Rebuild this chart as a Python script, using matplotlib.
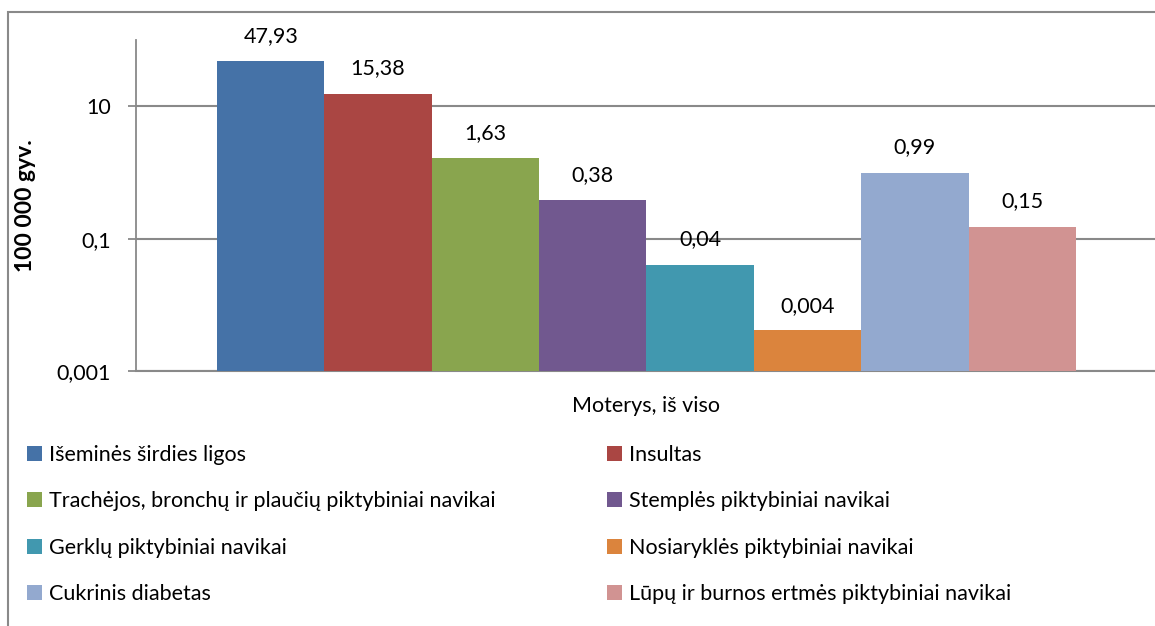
import matplotlib.pyplot as plt
from matplotlib.patches import Rectangle

plt.rcParams['font.family'] = ['Lato', 'DejaVu Sans']

# Mirtingumas, moterys, iš viso (100 000 gyv.)
ligos = [
    'Išeminės širdies ligos',
    'Insultas',
    'Trachėjos, bronchų ir plaučių piktybiniai navikai',
    'Stemplės piktybiniai navikai',
    'Gerklų piktybiniai navikai',
    'Nosiaryklės piktybiniai navikai',
    'Cukrinis diabetas',
    'Lūpų ir burnos ertmės piktybiniai navikai',
]
reiksmes = [47.93, 15.38, 1.63, 0.38, 0.04, 0.004, 0.99, 0.15]
spalvos = ['#4572A7', '#AA4643', '#89A54E', '#71588F',
           '#4198AF', '#DB843D', '#93A9CF', '#D19392']
grupe = 'Moterys, iš viso'
y_ticks = [0.001, 0.1, 10]
y_tick_labels = ['0,001', '0,1', '10']

W, H = 1155, 626
fs = 15.5
fig = plt.figure(figsize=(W / 100, H / 100), dpi=100)
ax = fig.add_axes([136 / W, 1 - 371 / H, 1021 / W, 331 / H])

grey = '#898989'
stulpeliai = []
for i, (v, c, l) in enumerate(zip(reiksmes, spalvos, ligos)):
    b = ax.bar(i, v, width=1.0, color=c, label=l, bottom=0.0001, zorder=3)
    stulpeliai.append(b)
    ax.annotate(f'{v:g}'.replace('.', ','), (i, v), xytext=(0, 14),
                textcoords='offset points', ha='center', va='baseline',
                fontsize=fs, color='black')

ax.set_yscale('log')
ax.set_ylim(0.001, 100)
ax.set_xlim(-0.5 - 0.755, 7.5 + 0.755)
ax.set_yticks(y_ticks)
ax.set_yticklabels(y_tick_labels)
ax.minorticks_off()
ax.set_xticks([3.5])
ax.set_xticklabels([grupe])
ax.tick_params(axis='x', length=0, pad=18, labelsize=fs)
ax.tick_params(axis='y', length=6, width=1.3, color=grey, pad=12, labelsize=fs)
ax.grid(axis='y', color=grey, linewidth=1.5, zorder=0)

for s in ['top', 'right']:
    ax.spines[s].set_visible(False)
ax.spines['left'].set_color(grey)
ax.spines['bottom'].set_color(grey)
ax.spines['left'].set_linewidth(1.3)
ax.spines['bottom'].set_linewidth(1.5)

fig.text(25 / W, 1 - 206 / H, '100 000 gyv.', rotation=90, ha='center',
         va='center', fontsize=16.5, fontweight='bold')

# legenda dviem stulpeliais, eilutėmis iš kairės į dešinę
leg_kw = dict(frameon=False, fontsize=fs, handlelength=0.7, handleheight=0.7,
              handletextpad=0.3, labelspacing=1.23, borderpad=0, borderaxespad=0,
              loc='upper left')
fig.legend(handles=stulpeliai[0::2], bbox_to_anchor=(27 / W, 1 - 445 / H), **leg_kw)
fig.legend(handles=stulpeliai[1::2], bbox_to_anchor=(607 / W, 1 - 445 / H), **leg_kw)

# rėmelis aplink diagramą
fig.patches.append(Rectangle((8 / W, -0.1), 1.2, 1 - 12 / H + 0.1,
                             transform=fig.transFigure, fill=False,
                             edgecolor=grey, linewidth=1.5))

fig.savefig('out.png', dpi=100)
